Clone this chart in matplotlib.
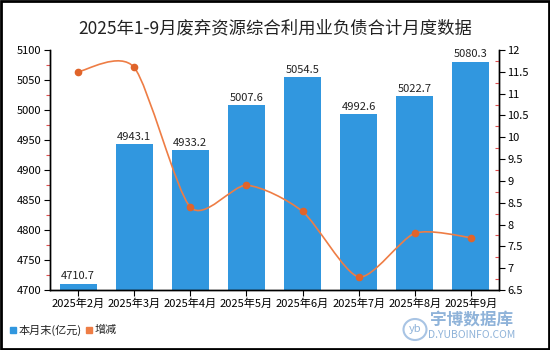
import matplotlib.pyplot as plt
import numpy as np
from matplotlib.path import Path
from matplotlib.patches import PathPatch, Rectangle
from matplotlib.ticker import MultipleLocator, FuncFormatter

plt.rcParams['font.family'] = ['Noto Sans CJK SC', 'DejaVu Sans']

months = ['2025年2月', '2025年3月', '2025年4月', '2025年5月',
          '2025年6月', '2025年7月', '2025年8月', '2025年9月']
debt = [4710.7, 4943.1, 4933.2, 5007.6, 5054.5, 4992.6, 5022.7, 5080.3]
change = [11.5, 11.6, 8.4, 8.9, 8.3, 6.8, 7.8, 7.7]

bar_color = '#3197df'
line_color = '#ee7d45'
dot_color = '#e0642a'

fig = plt.figure(figsize=(5.5, 3.5), dpi=100)
ax = fig.add_axes([50 / 550, 60 / 350, 449 / 550, 240 / 350])
ax2 = ax.twinx()

x = np.arange(len(months))
ax.bar(x, debt, width=0.66, color=bar_color, zorder=2)
for xi, v in zip(x, debt):
    ax.text(xi, v + 4, f'{v:.1f}', ha='center', va='bottom', fontsize=8, color='#222222')

ax.set_xlim(-0.5, len(months) - 0.5)
ax.set_ylim(4700, 5100)
ax.set_xticks(x)
ax.set_xticklabels(months, fontsize=8)
ax.yaxis.set_major_locator(MultipleLocator(50))
ax.yaxis.set_minor_locator(MultipleLocator(25))
ax.tick_params(axis='y', which='major', labelsize=8, length=4, width=0.8, pad=2)
ax.tick_params(axis='y', which='minor', length=3, width=0.8, color='#e05050')
ax.tick_params(axis='x', length=4, width=0.8, pad=2)

# smoothed line through the change values (cubic bezier segments)
ys = np.array(change)
pts = np.column_stack([x, ys])
verts = [tuple(pts[0])]
codes = [Path.MOVETO]
k = 0.25
for i in range(len(pts) - 1):
    p0 = pts[i - 1] if i > 0 else pts[i]
    p1 = pts[i]
    p2 = pts[i + 1]
    p3 = pts[i + 2] if i + 2 < len(pts) else pts[i + 1]
    c1 = p1 + (p2 - p0) * k / 2
    c2 = p2 - (p3 - p1) * k / 2
    verts += [tuple(c1), tuple(c2), tuple(p2)]
    codes += [Path.CURVE4] * 3
ax2.add_patch(PathPatch(Path(verts, codes), facecolor='none', edgecolor=line_color, lw=1.2, zorder=3))
ax2.plot(x, ys, 'o', color=dot_color, ms=4.5, zorder=4)

ax2.set_ylim(6.5, 12)
ax2.yaxis.set_major_locator(MultipleLocator(0.5))
ax2.yaxis.set_minor_locator(MultipleLocator(0.25))
ax2.yaxis.set_major_formatter(FuncFormatter(lambda v, p: f'{v:g}'))
ax2.tick_params(axis='y', which='major', labelsize=8, length=4, width=0.8, pad=2)
ax2.tick_params(axis='y', which='minor', direction='in', length=3, width=0.8, color='#e05050')

for a in (ax, ax2):
    a.spines['top'].set_visible(False)
    for s in ('left', 'right', 'bottom'):
        a.spines[s].set_linewidth(1.0)

fig.text(0.5, 322 / 350, '2025年1-9月废弃资源综合利用业负债合计月度数据',
         ha='center', va='center', fontsize=12.5, fontweight='medium', color='#222222')

# legend
fig.patches.append(Rectangle((10 / 550, 17 / 350), 6 / 550, 6 / 350, color=bar_color,
                             transform=fig.transFigure, figure=fig))
fig.text(19 / 550, 20 / 350, '本月末(亿元)', fontsize=8, va='center', color='#222222')
fig.patches.append(Rectangle((86 / 550, 17 / 350), 6 / 550, 6 / 350, color=line_color,
                             transform=fig.transFigure, figure=fig))
fig.text(95 / 550, 20 / 350, '增减', fontsize=8, va='center', color='#222222')

# watermark
fig.text(472 / 550, 30 / 350, '宇博数据库', fontsize=12, color='#8fb3d9', ha='center', va='center',
         fontweight='bold')
fig.text(472 / 550, 15 / 350, 'D.YUBOINFO.COM', fontsize=7.5, color='#8fb3d9', ha='center', va='center')
fig.patches.append(Rectangle((404 / 550, 11 / 350), 23 / 550, 19 / 350, fill=False, lw=0,
                             transform=fig.transFigure, figure=fig))
from matplotlib.patches import Ellipse
fig.patches.append(Ellipse((415 / 550, 20.5 / 350), 23 / 550, 21 / 350, transform=fig.transFigure,
                           fill=False, ec='#a8c4e4', lw=1.5, figure=fig))
fig.text(415 / 550, 20.5 / 350, 'yb', fontsize=8, color='#8fb3d9', ha='center', va='center',
         style='italic')

# outer border
fig.patches.append(Rectangle((0.002, 0.003), 0.996, 0.994, fill=False, ec='black', lw=2,
                             transform=fig.transFigure, figure=fig))

fig.savefig('out.png', dpi=100)
